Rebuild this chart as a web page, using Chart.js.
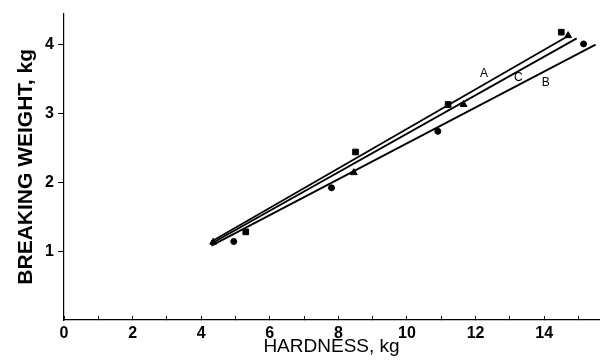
<!DOCTYPE html>
<html>
<head>
<meta charset="utf-8">
<script src="https://cdn.jsdelivr.net/npm/chart.js@4.4.1/dist/chart.umd.min.js"></script>
<style>
  html, body { margin: 0; padding: 0; background: #fff; }
  #wrap { width: 604px; height: 362px; }
</style>
</head>
<body>
<div id="wrap"><canvas id="c" width="604" height="362"></canvas></div>
<script>
const squaresA_x = [5.3, 8.5, 11.2, 14.5];
const squaresA_y = [1.28, 2.44, 3.13, 4.18];
const trianglesC_x = [4.35, 8.45, 11.65, 14.7];
const trianglesC_y = [1.13, 2.14, 3.13, 4.13];
const circlesB_x = [4.95, 7.8, 10.9, 15.15];
const circlesB_y = [1.14, 1.92, 2.74, 4.01];

// Fitted lines (end points)
const lineA_x = [4.3, 14.75];
const lineA_y = [1.14, 4.14];
const lineC_x = [4.3, 14.95];
const lineC_y = [1.11, 4.09];
const lineB_x = [4.3, 15.5];
const lineB_y = [1.08, 4.0];

// Line labels
const labelText = ['A', 'C', 'B'];
const label_x = [12.25, 13.25, 14.05];
const label_y = [3.58, 3.52, 3.45];

// Axis ticks
const xTicks = [0, 1, 2, 3, 4, 5, 6, 7, 8, 9, 10, 11, 12, 13, 14, 15];
const xTickLabels = ['0', '', '2', '', '4', '', '6', '', '8', '', '10', '', '12', '', '14', ''];
const yTicks = [1, 2, 3, 4];

const pts = (xs, ys) => xs.map((x, i) => ({ x: x, y: ys[i] }));

const lineLabels = {
  id: 'lineLabels',
  afterDatasetsDraw(chart) {
    const ctx = chart.ctx;
    const xs = chart.scales.x, ys = chart.scales.y;
    ctx.save();
    ctx.fillStyle = '#000';
    ctx.font = '12px "Liberation Sans", Arial, sans-serif';
    ctx.textAlign = 'center';
    ctx.textBaseline = 'middle';
    labelText.forEach((t, i) => {
      ctx.fillText(t, xs.getPixelForValue(label_x[i]), ys.getPixelForValue(label_y[i]));
    });
    ctx.restore();
  }
};

const tickFont = { family: '"Liberation Sans", Arial, sans-serif', size: 16, weight: 'bold' };

new Chart(document.getElementById('c'), {
  type: 'scatter',
  data: {
    datasets: [
      { data: pts(lineA_x, lineA_y), showLine: true, borderColor: '#000', borderWidth: 1.8, pointRadius: 0 },
      { data: pts(lineC_x, lineC_y), showLine: true, borderColor: '#000', borderWidth: 1.8, pointRadius: 0 },
      { data: pts(lineB_x, lineB_y), showLine: true, borderColor: '#000', borderWidth: 1.8, pointRadius: 0 },
      { data: pts(squaresA_x, squaresA_y), pointStyle: 'rect', pointRadius: 4, backgroundColor: '#000', borderColor: '#000' },
      { data: pts(trianglesC_x, trianglesC_y), pointStyle: 'triangle', pointRadius: 4, backgroundColor: '#000', borderColor: '#000' },
      { data: pts(circlesB_x, circlesB_y), pointStyle: 'circle', pointRadius: 3, backgroundColor: '#000', borderColor: '#000' }
    ]
  },
  options: {
    responsive: false,
    animation: false,
    devicePixelRatio: 1,
    layout: { padding: { top: 12, right: 0, left: 0, bottom: 0 } },
    plugins: { legend: { display: false }, tooltip: { enabled: false } },
    scales: {
      x: {
        type: 'linear',
        min: 0, max: 15.6,
        afterBuildTicks(scale) { scale.ticks = xTicks.map(v => ({ value: v })); },
        afterFit(scale) { scale.height = 42; },
        ticks: {
          color: '#000', font: tickFont, padding: 8, maxRotation: 0, autoSkip: false,
          callback: (v, i) => xTickLabels[xTicks.indexOf(v)]
        },
        grid: { display: true, drawOnChartArea: false, color: '#000', tickLength: -4, lineWidth: 1 },
        border: { display: true, color: '#000', width: 1.2 },
        title: {
          display: true, text: 'HARDNESS, kg', color: '#000',
          font: { family: '"Liberation Sans", Arial, sans-serif', size: 19 },
          padding: { top: 0, bottom: 4 }
        }
      },
      y: {
        type: 'linear',
        min: 0, max: 4.45,
        afterBuildTicks(scale) { scale.ticks = yTicks.map(v => ({ value: v })); },
        afterFit(scale) { scale.width = 64; },
        ticks: { color: '#000', font: tickFont, padding: 4 },
        grid: { display: true, drawOnChartArea: false, color: '#000', tickLength: 6, lineWidth: 1 },
        border: { display: true, color: '#000', width: 1.2 },
        title: {
          display: true, text: 'BREAKING WEIGHT, kg', color: '#000',
          font: { family: '"Liberation Sans", Arial, sans-serif', size: 21, weight: 'bold' },
          padding: { top: 14, bottom: 0 }
        }
      }
    }
  },
  plugins: [lineLabels]
});
</script>
</body>
</html>
